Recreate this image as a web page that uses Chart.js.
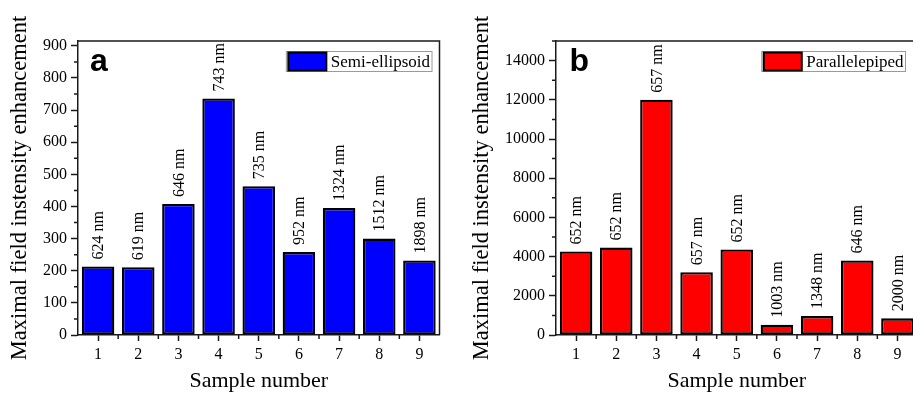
<!DOCTYPE html>
<html>
<head>
<meta charset="utf-8">
<script src="https://cdn.jsdelivr.net/npm/chart.js@4.4.0/dist/chart.umd.min.js"></script>
<style>
  html, body { margin: 0; padding: 0; background: #fff; }
  #wrap { position: relative; width: 913px; height: 393px; overflow: hidden; }
  canvas { position: absolute; top: 0; }
</style>
</head>
<body>
<div id="wrap">
  <canvas id="chartA" width="455" height="393" style="left:0px"></canvas>
  <canvas id="chartB" width="480" height="393" style="left:455px"></canvas>
</div>
<script>
// sample numbers (x axis)
const samples = ['1', '2', '3', '4', '5', '6', '7', '8', '9'];

// panel a : semi-ellipsoid
const semiEllipsoid = [213, 211, 408, 736, 463, 258, 395, 300, 232];
const semiWavelength = ['624 nm', '619 nm', '646 nm', '743 nm', '735 nm', '952 nm', '1324 nm', '1512 nm', '1898 nm'];
const semiTicks = [0, 100, 200, 300, 400, 500, 600, 700, 800, 900];

// panel b : parallelepiped
const parallelepiped = [4260, 4460, 12000, 3200, 4360, 525, 965, 3800, 850];
const paraWavelength = ['652 nm', '652 nm', '657 nm', '657 nm', '652 nm', '1003 nm', '1348 nm', '646 nm', '2000 nm'];
const paraTicks = [0, 2000, 4000, 6000, 8000, 10000, 12000, 14000];

const SERIF = "'Liberation Serif', 'Times New Roman', serif";
const LINE = '#1a1a1a';

/**
 * frame, minor ticks, panel letter, legend, wavelength labels
 */
const panelDecor = {
  id: 'panelDecor',
  afterDatasetsDraw(chart, args, opts) {
    const ctx = chart.ctx;
    const meta = chart.getDatasetMeta(0);
    ctx.save();
    ctx.fillStyle = '#000';
    ctx.font = '16px ' + SERIF;
    ctx.textAlign = 'left';
    ctx.textBaseline = 'middle';
    meta.data.forEach((bar, i) => {
      ctx.save();
      ctx.translate(bar.x + 1, bar.y - 7);
      ctx.rotate(-Math.PI / 2);
      ctx.fillText(opts.labels[i], 0, 0);
      ctx.restore();
    });
    ctx.restore();
  },
  afterDraw(chart, args, opts) {
    const ctx = chart.ctx;
    const area = chart.chartArea;
    const x = chart.scales.x;
    const y = chart.scales.y;
    ctx.save();

    // top and right side of the box
    ctx.strokeStyle = LINE;
    ctx.lineWidth = 1.5;
    ctx.beginPath();
    ctx.moveTo(area.left, area.top);
    ctx.lineTo(area.right, area.top);
    ctx.lineTo(area.right, area.bottom);
    ctx.stroke();

    // minor ticks
    ctx.beginPath();
    const yt = y.ticks.map(t => t.value);
    const step = yt[1] - yt[0];
    for (let i = 0; i < yt.length; i++) {
      const v = yt[i] + step / 2;
      if (v > y.max) break;
      const py = y.getPixelForValue(v);
      ctx.moveTo(area.left - 4, py);
      ctx.lineTo(area.left, py);
    }
    for (let i = 0; i < samples.length - 1; i++) {
      const px = (x.getPixelForValue(i) + x.getPixelForValue(i + 1)) / 2;
      ctx.moveTo(px, area.bottom);
      ctx.lineTo(px, area.bottom + 4);
    }
    ctx.stroke();

    // panel letter
    ctx.fillStyle = '#000';
    ctx.font = "bold 32px 'Liberation Sans', Arial, sans-serif";
    ctx.textAlign = 'left';
    ctx.textBaseline = 'alphabetic';
    ctx.fillText(opts.letter, area.left + opts.letterX, area.top + 30);

    // legend
    ctx.font = '17px ' + SERIF;
    const tw = ctx.measureText(opts.legend).width;
    const bh = 20;
    const bw = 1.5 + 39 + 4 + tw + 2;
    const bx = area.right - opts.legendRight - bw;
    const by = area.top + 10.5;
    ctx.strokeStyle = '#9a9a9a';
    ctx.lineWidth = 1;
    ctx.strokeRect(bx, by, bw, bh);
    ctx.fillStyle = opts.color;
    ctx.fillRect(bx + 2, by + 1, 38, bh - 2);
    ctx.strokeStyle = '#000';
    ctx.lineWidth = 2;
    ctx.strokeRect(bx + 2, by + 1, 38, bh - 2);
    ctx.fillStyle = '#000';
    ctx.textBaseline = 'middle';
    ctx.fillText(opts.legend, bx + 1.5 + 39 + 4, by + bh / 2 + 1);

    ctx.restore();
  }
};

function makeChart(id, values, color, yMax, yTicks, yWidth, titlePad, padRight, deco) {
  return new Chart(document.getElementById(id), {
    type: 'bar',
    data: {
      labels: samples,
      datasets: [{
        data: values,
        backgroundColor: color,
        borderColor: '#000',
        borderWidth: 2.3,
        borderSkipped: false,
        barPercentage: 0.81,
        categoryPercentage: 1.0
      }]
    },
    options: {
      responsive: false,
      animation: false,
      layout: { padding: { top: 41, right: padRight, left: 0, bottom: 0 } },
      plugins: {
        legend: { display: false },
        tooltip: { enabled: false },
        panelDecor: deco
      },
      scales: {
        x: {
          offset: true,
          grid: { display: true, offset: false, drawOnChartArea: false, tickLength: 6, tickWidth: 1.5, tickColor: LINE },
          border: { display: true, color: LINE, width: 1.5 },
          ticks: { color: '#000', padding: 4, font: { family: SERIF, size: 16 } },
          title: { display: true, text: 'Sample number', color: '#000', padding: 0, font: { family: SERIF, size: 22, lineHeight: 1.1 } },
          afterFit: s => { s.height = 58; }
        },
        y: {
          min: 0,
          max: yMax,
          grid: { display: true, drawOnChartArea: false, tickLength: 7, tickWidth: 1.5, tickColor: LINE },
          border: { display: true, color: LINE, width: 1.5 },
          ticks: { color: '#000', padding: 4, font: { family: SERIF, size: 16 }, callback: v => String(v) },
          afterBuildTicks: s => { s.ticks = yTicks.map(v => ({ value: v })); },
          title: { display: true, text: 'Maximal field instensity enhancement', color: '#000', padding: { top: titlePad, bottom: 0 }, font: { family: SERIF, size: 22.5, lineHeight: 1.1 } },
          afterFit: s => { s.width = yWidth; }
        }
      }
    },
    plugins: [panelDecor]
  });
}

makeChart('chartA', semiEllipsoid, '#0000ff', 915, semiTicks, 78, 7.5, 15.5, {
  letter: 'a', letterX: 12, legend: 'Semi-ellipsoid', legendRight: 7.5, color: '#0000ff', labels: semiWavelength
});
makeChart('chartB', parallelepiped, '#ff0000', 15000, paraTicks, 101, 14.5, 17.5, {
  letter: 'b', letterX: 13.5, legend: 'Parallelepiped', legendRight: 12, color: '#ff0000', labels: paraWavelength
});
</script>
</body>
</html>
